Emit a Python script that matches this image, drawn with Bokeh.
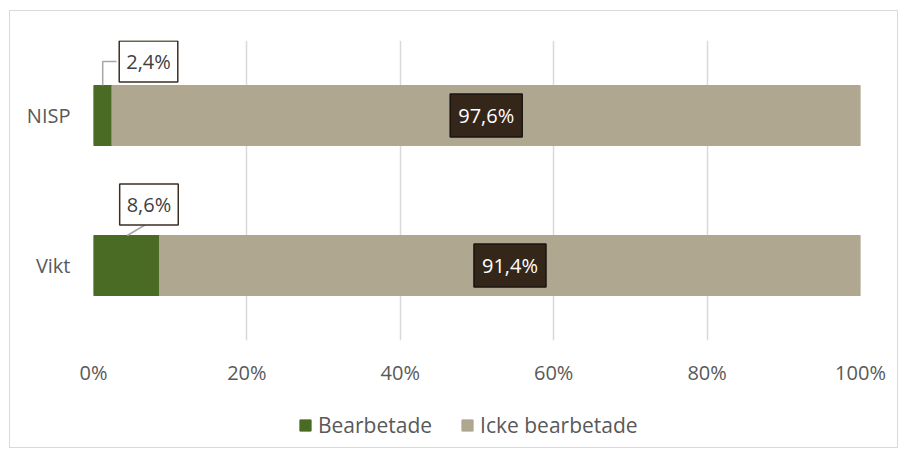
from bokeh.plotting import figure
from bokeh.layouts import column
from bokeh.models import (Range1d, FixedTicker, PrintfTickFormatter, ColumnDataSource,
                          Label, Legend, LegendItem)
from bokeh.embed import file_html
from bokeh.resources import INLINE

# ---- data ----
categories = ["Vikt", "NISP"]          # bottom to top
bearbetade = [8.6, 2.4]
icke_bearbetade = [91.4, 97.6]
series_names = ["Bearbetade", "Icke bearbetade"]
x_ticks = [0, 20, 40, 60, 80, 100]

# ---- style ----
GREEN = "#4a6b23"
BEIGE = "#afa790"
DARK = "#35261a"
GREY_TXT = "#595959"
FONT = "Open Sans"
FS = "20px"
BAR_H = 0.4
PX_PER_X = 767 / 100.0   # pixels per percent
PX_PER_Y = 150.0         # pixels per category unit

y_pos = [i + 0.5 for i in range(len(categories))]

def fmt(v):
    return f"{v:.1f}%".replace(".", ",")

p = figure(width=887, height=378, output_backend="svg", toolbar_location=None,
           x_range=Range1d(0, 100), y_range=Range1d(0, len(categories)),
           min_border_left=83, min_border_right=37, min_border_top=29, min_border_bottom=49)
p.outline_line_color = None
p.background_fill_color = "white"
p.border_fill_color = "white"

src = ColumnDataSource(dict(y=y_pos, b=bearbetade, i=icke_bearbetade,
                            end=[b + i for b, i in zip(bearbetade, icke_bearbetade)]))
r1 = p.hbar(y="y", left=0, right="b", height=BAR_H, color=GREEN, source=src)
r2 = p.hbar(y="y", left="b", right="end", height=BAR_H, color=BEIGE, source=src)

# axes
p.xaxis.ticker = FixedTicker(ticks=x_ticks)
p.xaxis.formatter = PrintfTickFormatter(format="%d%%")
p.yaxis.ticker = FixedTicker(ticks=y_pos)
p.yaxis.major_label_overrides = {y: c for y, c in zip(y_pos, categories)}
for ax in (p.xaxis[0], p.yaxis[0]):
    ax.axis_line_color = None
    ax.major_tick_line_color = None
    ax.minor_tick_line_color = None
    ax.major_label_text_font = FONT
    ax.major_label_text_font_size = FS
    ax.major_label_text_color = GREY_TXT
p.xaxis.major_label_standoff = 12
p.yaxis.major_label_standoff = 17

p.xgrid.ticker = FixedTicker(ticks=x_ticks)
p.xgrid.grid_line_color = "#d9d9d9"
p.xgrid.grid_line_width = 1.5
p.ygrid.grid_line_color = None

# inner labels (Icke bearbetade)
for b, i, y in zip(bearbetade, icke_bearbetade, y_pos):
    p.add_layout(Label(x=b + i / 2, y=y, text=fmt(i), text_align="center",
                       text_baseline="middle", text_color="white", text_font=FONT,
                       text_font_size=FS, background_fill_color=DARK,
                       border_line_color="#1a1410", border_line_width=1.5, padding=8))

# outer labels (Bearbetade) with leader lines; offsets in pixels (style)
lab_dx = [-10.5, 36.6]   # label centre offset from bar end
lab_dy = [61, 54]        # label centre above bar centre
box_half_w = 32
box_half_h = 19
ox = [b + dx / PX_PER_X for b, dx in zip(bearbetade, lab_dx)]
oy = [y + dy / PX_PER_Y for y, dy in zip(y_pos, lab_dy)]

lx, ly = [], []
# Vikt: straight from bar top to box bottom
lx.append([bearbetade[0] / 2 + 0.1, ox[0] - 1.5 / PX_PER_X])
ly.append([y_pos[0] + BAR_H / 2, oy[0] - box_half_h / PX_PER_Y])
# NISP: elbow from bar top to box left
lx.append([bearbetade[1] / 2, bearbetade[1] / 2, ox[1] - box_half_w / PX_PER_X])
ly.append([y_pos[1] + BAR_H / 2, oy[1], oy[1]])
p.multi_line(xs=lx, ys=ly, line_color="#a6a6a6", line_width=1.5)

for b, x, y in zip(bearbetade, ox, oy):
    p.add_layout(Label(x=x, y=y, text=fmt(b), text_align="center",
                       text_baseline="middle", text_color="#404040", text_font=FONT,
                       text_font_size=FS, background_fill_color="white",
                       border_line_color="#3d2e22", border_line_width=1.5, padding=7))

# ---- legend strip (proxy glyphs lie outside the visible range) ----
p2 = figure(width=887, height=58, output_backend="svg", toolbar_location=None,
            x_range=Range1d(0, 1), y_range=Range1d(0, 1),
            x_axis_type=None, y_axis_type=None,
            min_border_left=0, min_border_right=0, min_border_top=0, min_border_bottom=0)
p2.outline_line_color = None
p2.grid.grid_line_color = None
proxy = ColumnDataSource(dict(y=[-5.0], l=[0.0], r=[0.1]))
g1 = p2.hbar(y="y", left="l", right="r", height=0.1, color=GREEN, source=proxy)
g2 = p2.hbar(y="y", left="l", right="r", height=0.1, color=BEIGE, source=proxy)

legend = Legend(items=[LegendItem(label=series_names[0], renderers=[g1]),
                       LegendItem(label=series_names[1], renderers=[g2])],
                orientation="horizontal", location=(205, 8))
legend.label_text_font = FONT
legend.label_text_font_size = "21px"
legend.label_text_color = GREY_TXT
legend.glyph_width = 14
legend.glyph_height = 14
legend.label_standoff = 6
legend.spacing = 28
legend.padding = 0
legend.margin = 0
legend.border_line_color = None
legend.background_fill_alpha = 0
p2.add_layout(legend, "center")

layout = column(p, p2, spacing=0,
                styles={"border": "1px solid #d9d9d9", "margin-left": "9px",
                        "margin-top": "10px", "background-color": "white"})

open("out.html", "w").write(file_html(layout, INLINE))
